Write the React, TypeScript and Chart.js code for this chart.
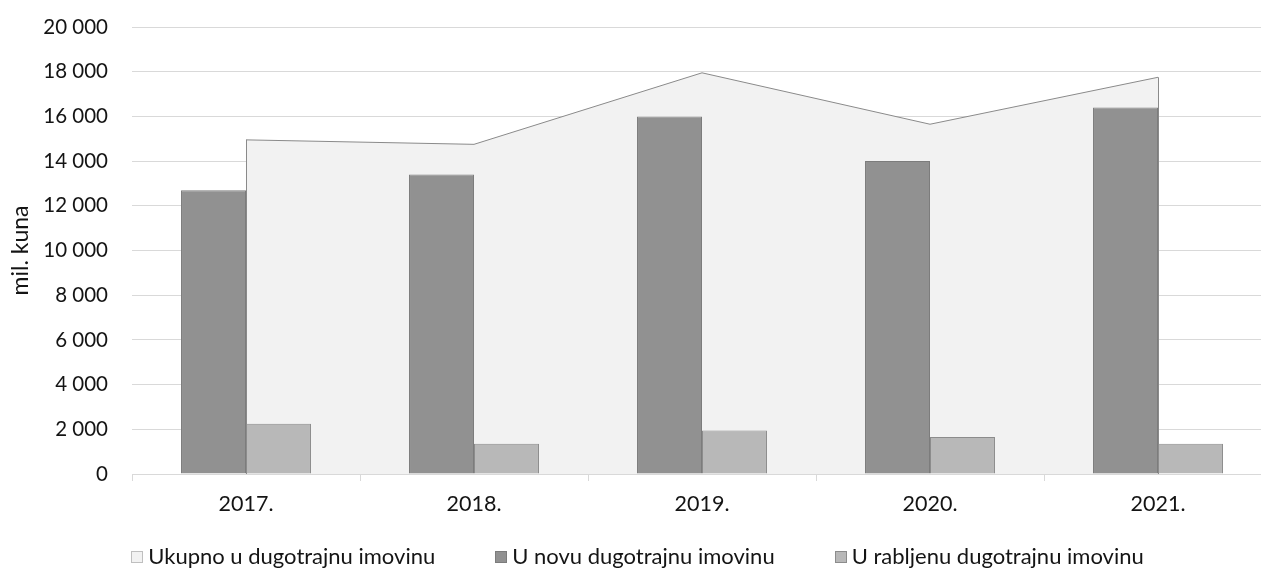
import React, { useEffect, useRef } from 'react';
import { Chart, registerables } from 'chart.js';

Chart.register(...registerables);

const categories = ['2017.', '2018.', '2019.', '2020.', '2021.'];
const seriesNames = ['Ukupno u dugotrajnu imovinu', 'U novu dugotrajnu imovinu', 'U rabljenu dugotrajnu imovinu'];
const ukupno = [14950, 14750, 17950, 15650, 17750];
const novu = [12700, 13400, 16000, 14000, 16400];
const rabljenu = [2250, 1350, 1950, 1650, 1350];
const yMin = 0;
const yMax = 20000;
const yStep = 2000;
const axisTitle = 'mil. kuna';

const FONT = 'Lato, "Open Sans", sans-serif';
const TEXT = '#141414';
const GRID = '#d9d9d9';

const FILLS = ['#f2f2f2', '#919191', '#b8b8b8'];
const STROKES = ['#8a8a8a', '#7c7c7c', '#8c8c8c'];
const KEY_STROKES = ['#bfbfbf', '#7c7c7c', '#8c8c8c'];

const LEGEND_PAD = 55;
const LEGEND_TOP = 22;
const LEGEND_H = 45;
const LEGEND_SHIFT = -1;
const KEY_OFFSET = 5;
const KEY_SIZE = 12;

const fmt = (v: number) => String(v).replace(/\B(?=(\d{3})+(?!\d))/g, ' ');

const legendTweak = {
  id: 'legendTweak',
  afterInit(chart: any) {
    const lg = chart.legend;
    if (!lg) return;
    const fit = lg.fit.bind(lg);
    lg.fit = function () {
      fit();
      this.height = LEGEND_H;
    };
  },
  afterLayout(chart: any) {
    const lg = chart.legend;
    if (!lg) return;
    lg.top -= LEGEND_PAD - LEGEND_TOP;
    lg.left += LEGEND_SHIFT;
    lg.right += LEGEND_SHIFT;
  },
  afterDraw(chart: any) {
    const lg = chart.legend;
    if (!lg || !lg.legendItems || !lg.legendHitBoxes) return;
    const ctx = chart.ctx;
    ctx.save();
    lg.legendItems.forEach((item: any, i: number) => {
      const hb = lg.legendHitBoxes[i];
      if (!hb) return;
      const di = item.datasetIndex;
      const x = Math.round(hb.left + KEY_OFFSET) + 0.5;
      const y = Math.round(hb.top + (hb.height - KEY_SIZE) / 2) + 0.5;
      ctx.fillStyle = FILLS[di];
      ctx.strokeStyle = KEY_STROKES[di];
      ctx.lineWidth = 1;
      ctx.fillRect(x, y, KEY_SIZE - 1, KEY_SIZE - 1);
      ctx.strokeRect(x, y, KEY_SIZE - 1, KEY_SIZE - 1);
    });
    ctx.restore();
  },
};

const areaEdges = {
  id: 'areaEdges',
  afterDatasetDraw(chart: any, args: any) {
    if (args.index !== 0) return;
    const pts = args.meta.data;
    if (!pts || !pts.length) return;
    const y0 = chart.scales.y.getPixelForValue(0);
    const ctx = chart.ctx;
    ctx.save();
    ctx.strokeStyle = STROKES[0];
    ctx.lineWidth = 1;
    [pts[0], pts[pts.length - 1]].forEach((p: any) => {
      const x = Math.round(p.x) + 0.5;
      ctx.beginPath();
      ctx.moveTo(x, p.y);
      ctx.lineTo(x, y0);
      ctx.stroke();
    });
    ctx.restore();
  },
};

export default function App() {
  const ref = useRef<HTMLCanvasElement | null>(null);

  useEffect(() => {
    if (!ref.current) return;
    const chart = new Chart(ref.current, {
      type: 'bar',
      data: {
        labels: categories,
        datasets: [
          {
            type: 'line',
            label: seriesNames[0],
            data: ukupno,
            fill: 'origin',
            backgroundColor: FILLS[0],
            borderColor: STROKES[0],
            borderWidth: 1,
            pointRadius: 0,
            tension: 0,
            order: 3,
          } as any,
          {
            type: 'bar',
            label: seriesNames[1],
            data: novu,
            backgroundColor: FILLS[1],
            borderColor: STROKES[1],
            borderWidth: 1,
            categoryPercentage: 0.57,
            barPercentage: 1,
            order: 1,
          },
          {
            type: 'bar',
            label: seriesNames[2],
            data: rabljenu,
            backgroundColor: FILLS[2],
            borderColor: STROKES[2],
            borderWidth: 1,
            categoryPercentage: 0.57,
            barPercentage: 1,
            order: 2,
          },
        ],
      },
      options: {
        animation: false,
        responsive: false,
        maintainAspectRatio: false,
        layout: { padding: { top: 27, left: 0, right: 0, bottom: 0 } },
        scales: {
          x: {
            offset: true,
            grid: {
              display: true,
              drawOnChartArea: false,
              drawTicks: true,
              tickLength: 7,
              color: GRID,
              offset: true,
            },
            border: { display: true, color: GRID },
            ticks: { color: TEXT, font: { family: FONT, size: 21.5 }, padding: 10 },
            afterFit: (s: any) => {
              s.height = 50;
            },
          },
          y: {
            min: yMin,
            max: yMax,
            grid: { color: GRID, drawTicks: false },
            border: { display: false },
            ticks: {
              stepSize: yStep,
              color: TEXT,
              padding: 24,
              font: { family: FONT, size: 20.5 },
              callback: (v: any) => fmt(Number(v)),
            },
            title: {
              display: true,
              text: axisTitle,
              color: TEXT,
              font: { family: FONT, size: 23 },
              padding: { top: 7, bottom: 0 },
            },
            afterFit: (s: any) => {
              s.width = 132;
              s.paddingTop = 0;
              s.paddingBottom = 0;
            },
          },
        },
        plugins: {
          tooltip: { enabled: false },
          legend: {
            position: 'bottom',
            labels: {
              boxWidth: 11,
              boxHeight: 11,
              padding: LEGEND_PAD,
              color: TEXT,
              font: { family: FONT, size: 22 },
              sort: (a: any, b: any) => a.datasetIndex - b.datasetIndex,
              generateLabels: (c: any) => {
                const items = Chart.defaults.plugins.legend.labels.generateLabels(c);
                return items.map((it: any) => {
                  it.fillStyle = 'rgba(0,0,0,0)';
                  it.strokeStyle = 'rgba(0,0,0,0)';
                  it.lineWidth = 0;
                  return it;
                });
              },
            },
          },
        },
      },
      plugins: [legendTweak, areaEdges],
    });
    return () => chart.destroy();
  }, []);

  return (
    <div style={{ position: 'absolute', left: 0, top: 0, width: 1261, height: 569, overflow: 'hidden', background: '#fff' }}>
      <canvas ref={ref} width={1272} height={569} style={{ display: 'block', width: 1272, height: 569 }} />
    </div>
  );
}
